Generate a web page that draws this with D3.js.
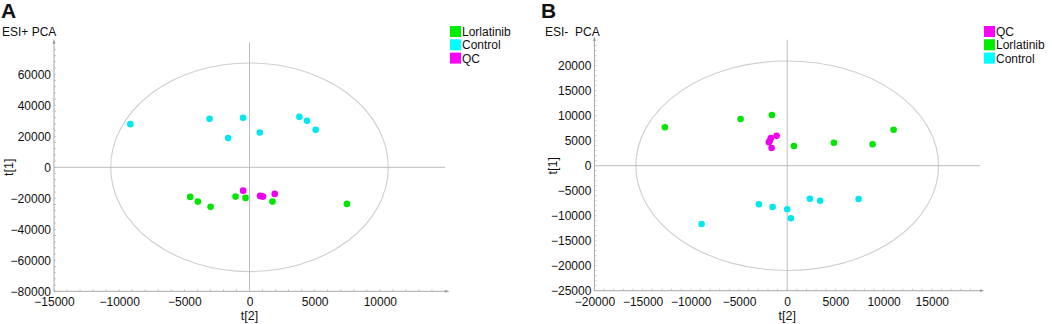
<!DOCTYPE html>
<html lang="en">
<head>
<meta charset="utf-8">
<title>PCA score plots</title>
<script src="https://cdn.jsdelivr.net/npm/d3@7"></script>
<style>
  body { margin: 0; background: #fff; }
  text { font-family: "Liberation Sans", Arial, sans-serif; }
</style>
</head>
<body>
<script>
// panel A: ESI+ scores, [t2, t1]
var posLorlatinib = [[-4548,-19100],[-3959,-22120],[-2986,-25530],[-1072,-18900],[-306,-19740],[1761,-22120],[7473,-23600]];
var posControl = [[-9142,27850],[-3063,31250],[-490,31900],[-1638,18840],[789,22500],[3829,32540],[4410,29970],[5077,24180]];
var posQC = [[-490,-15050],[812,-18460],[1041,-18900],[930,-18700],[1937,-17170]];

// panel B: ESI- scores, [t2, t1]
var negLorlatinib = [[-12690,7680],[-4834,9340],[-1587,10140],[695,3940],[4844,4600],[8859,4280],[11037,7200]];
var negControl = [[-2936,-7720],[-1515,-8260],[0,-8720],[384,-10520],[2355,-6600],[3424,-7000],[7407,-6660],[-8880,-11660]];
var negQC = [[-1100,6000],[-1691,5540],[-1898,4680],[-1618,3540],[-1800,5000]];

var xTicksA = [-15000,-10000,-5000,0,5000,10000];
var yTicksA = [-80000,-60000,-40000,-20000,0,20000,40000,60000];
var xTicksB = [-20000,-15000,-10000,-5000,0,5000,10000,15000];
var yTicksB = [-25000,-20000,-15000,-10000,-5000,0,5000,10000,15000,20000];

var colors = {Lorlatinib: "#00e600", Control: "#00e8ee", QC: "#f000f0"};
var legendColors = {Lorlatinib: "#00ee00", Control: "#00ffff", QC: "#ff00ff"};

var svg = d3.select("body").append("svg")
  .attr("width", 1052).attr("height", 324);

var defs = svg.append("defs");
defs.append("marker")
  .attr("id", "arrow").attr("viewBox", "0 0 10 10")
  .attr("refX", 5).attr("refY", 5)
  .attr("markerWidth", 5).attr("markerHeight", 5)
  .attr("orient", "auto")
  .append("path").attr("d", "M0,2 L10,5 L0,8 Z").attr("fill", "#999");

function drawPanel(cfg) {
  var g = svg.append("g");
  var x = d3.scaleLinear().domain(cfg.xDomain).range(cfg.xRange);
  var y = d3.scaleLinear().domain(cfg.yDomain).range(cfg.yRange);
  var x0 = cfg.xRange[0], x1 = cfg.xRange[1];
  var y0 = cfg.yRange[0], y1 = cfg.yRange[1];

  // ellipse (Hotelling T2)
  g.append("ellipse")
    .attr("cx", x(0)).attr("cy", y(0))
    .attr("rx", x(cfg.ellipse[0]) - x(0))
    .attr("ry", y(0) - y(cfg.ellipse[1]))
    .attr("fill", "none").attr("stroke", "#cfcfcf").attr("stroke-width", 1.1);

  // zero lines
  g.append("line").attr("x1", x0).attr("x2", x1).attr("y1", y(0)).attr("y2", y(0))
    .attr("stroke", "#bdbdbd").attr("stroke-width", 1);
  g.append("line").attr("x1", x(0)).attr("x2", x(0)).attr("y1", y0).attr("y2", y1 - 1)
    .attr("stroke", "#bdbdbd").attr("stroke-width", 1);

  // minor ticks
  var minorX = d3.range(cfg.xDomain[0], cfg.xDomain[1], cfg.xStep / 5);
  var minorY = d3.range(cfg.yDomain[0], cfg.yDomain[1], cfg.yStep / 5);
  g.append("g").selectAll("line").data(minorX).enter().append("line")
    .attr("x1", function(d){ return x(d); }).attr("x2", function(d){ return x(d); })
    .attr("y1", y0).attr("y2", y0 - 2)
    .attr("stroke", "#c8c8c8");
  g.append("g").selectAll("line").data(minorY).enter().append("line")
    .attr("y1", function(d){ return y(d); }).attr("y2", function(d){ return y(d); })
    .attr("x1", x0).attr("x2", x0 + 2)
    .attr("stroke", "#c8c8c8");

  // axes
  var xAxis = g.append("g")
    .attr("transform", "translate(0," + y0 + ")")
    .call(d3.axisBottom(x).tickValues(cfg.xTicks).tickSize(0).tickPadding(5).tickFormat(d3.format("d")));
  var yAxis = g.append("g")
    .attr("transform", "translate(" + x0 + ",0)")
    .call(d3.axisLeft(y).tickValues(cfg.yTicks).tickSize(0).tickPadding(3).tickFormat(d3.format("d")));
  [xAxis, yAxis].forEach(function(a){
    a.select(".domain").remove();
    a.selectAll("text").attr("fill", "#111").style("font-size", "12px");
  });
  xAxis.selectAll("text").attr("dy", "0.85em");

  g.append("line").attr("x1", x0).attr("x2", x1 + 2).attr("y1", y0).attr("y2", y0)
    .attr("stroke", "#a8a8a8").attr("marker-end", "url(#arrow)");
  g.append("line").attr("x1", x0).attr("x2", x0).attr("y1", y0).attr("y2", y1 - 2)
    .attr("stroke", "#a8a8a8").attr("marker-end", "url(#arrow)");

  // points
  cfg.groups.forEach(function(grp){
    g.append("g").selectAll("circle").data(grp.data).enter().append("circle")
      .attr("cx", function(d){ return x(d[0]); })
      .attr("cy", function(d){ return y(d[1]); })
      .attr("r", 3.3)
      .attr("fill", colors[grp.name]);
  });

  // labels
  g.append("text").attr("x", cfg.letterX).attr("y", 18)
    .style("font-size", "21px").style("font-weight", "bold").attr("fill", "#111")
    .text(cfg.letter);
  g.append("text").attr("x", cfg.titleX).attr("y", 36)
    .style("font-size", "12px").attr("fill", "#111").attr("xml:space", "preserve")
    .text(cfg.title);
  g.append("text")
    .attr("transform", "translate(" + cfg.ylabX + "," + y(0) + ") rotate(-90)")
    .attr("text-anchor", "middle").style("font-size", "12.5px").attr("fill", "#111")
    .text("t[1]");
  g.append("text").attr("x", x(0)).attr("y", 320)
    .attr("text-anchor", "middle").style("font-size", "12.5px").attr("fill", "#111")
    .text("t[2]");

  // legend
  var leg = g.append("g").attr("transform", "translate(" + cfg.legendX + ",26)");
  cfg.legendOrder.forEach(function(name, i){
    leg.append("rect").attr("x", 0).attr("y", i * 13.3).attr("width", 11).attr("height", 11)
      .attr("fill", legendColors[name]);
    leg.append("text").attr("x", 12).attr("y", i * 13.3 + 10)
      .style("font-size", "12px").attr("fill", "#111").text(name);
  });
}

drawPanel({
  letter: "A", letterX: 1, title: "ESI+ PCA", titleX: 2, ylabX: 13,
  xDomain: [-15000, 15000], xRange: [54, 445], xStep: 5000, xTicks: xTicksA,
  yDomain: [-80000, 80000], yRange: [291.3, 43.3], yStep: 20000, yTicks: yTicksA,
  ellipse: [10650, 67300],
  groups: [{name: "Control", data: posControl}, {name: "Lorlatinib", data: posLorlatinib}, {name: "QC", data: posQC}],
  legendOrder: ["Lorlatinib", "Control", "QC"], legendX: 450
});

drawPanel({
  letter: "B", letterX: 541, title: "ESI-  PCA", titleX: 545, ylabX: 557,
  xDomain: [-20000, 20000], xRange: [594.4, 980], xStep: 5000, xTicks: xTicksB,
  yDomain: [-25000, 25000], yRange: [290.7, 40.7], yStep: 5000, yTicks: yTicksB,
  ellipse: [15700, 20950],
  groups: [{name: "Control", data: negControl}, {name: "Lorlatinib", data: negLorlatinib}, {name: "QC", data: negQC}],
  legendOrder: ["QC", "Lorlatinib", "Control"], legendX: 984
});
</script>
</body>
</html>
